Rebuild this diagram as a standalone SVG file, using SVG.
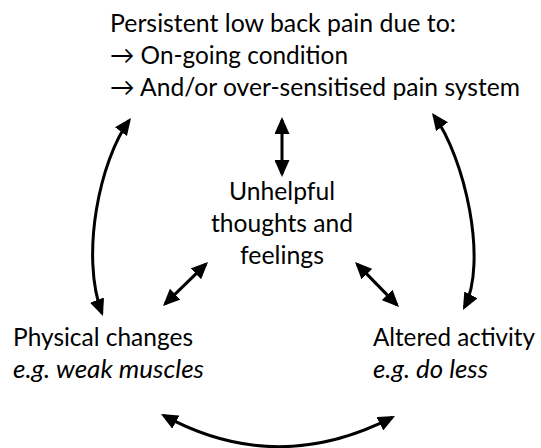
<svg xmlns="http://www.w3.org/2000/svg" width="541" height="448" viewBox="0 0 541 448">
  <style>
    text { font-family: Lato, "Open Sans", "Liberation Sans", sans-serif; font-size: 25px; fill: #000; }
    .it { font-style: italic; }
    .mid { text-anchor: middle; }
    .conn { fill: none; stroke: #000; stroke-width: 3; }
  </style>
  <defs>
    <marker id="ah" markerUnits="userSpaceOnUse" markerWidth="17" markerHeight="15" refX="14" refY="7.5" orient="auto-start-reverse">
      <path d="M0,0 L17,7.5 L0,15 Z" fill="#000"/>
    </marker>
  </defs>
  <rect width="541" height="448" fill="#fff"/>

  <g id="pain">
    <text x="110" y="32" textLength="346" lengthAdjust="spacingAndGlyphs">Persistent low back pain due to:</text>
    <text x="110" y="64" textLength="238" lengthAdjust="spacingAndGlyphs">→ On-going condition</text>
    <text x="110" y="96" textLength="410" lengthAdjust="spacingAndGlyphs">→ And/or over-sensitised pain system</text>
  </g>

  <g id="thoughts">
    <text class="mid" x="282" y="200" textLength="106" lengthAdjust="spacingAndGlyphs">Unhelpful</text>
    <text class="mid" x="282" y="232" textLength="142" lengthAdjust="spacingAndGlyphs">thoughts and</text>
    <text class="mid" x="282" y="264" textLength="84" lengthAdjust="spacingAndGlyphs">feelings</text>
  </g>

  <g id="physical">
    <text x="13" y="346" textLength="180" lengthAdjust="spacingAndGlyphs">Physical changes</text>
    <text class="it" x="13" y="378" textLength="191" lengthAdjust="spacingAndGlyphs">e.g. weak muscles</text>
  </g>

  <g id="activity">
    <text x="373" y="346" textLength="162" lengthAdjust="spacingAndGlyphs">Altered activity</text>
    <text class="it" x="373" y="378" textLength="115" lengthAdjust="spacingAndGlyphs">e.g. do less</text>
  </g>

  <g id="connectors">
    <path class="conn" marker-start="url(#ah)" marker-end="url(#ah)" d="M282,120 V174"/>
    <path class="conn" marker-start="url(#ah)" marker-end="url(#ah)" d="M165.1,303.9 L205.9,264.1"/>
    <path class="conn" marker-start="url(#ah)" marker-end="url(#ah)" d="M357.1,264.1 L396.9,304.9"/>
    <path class="conn" marker-start="url(#ah)" marker-end="url(#ah)" d="M129.2,120.4 C100,160 80,255 101.9,313.2"/>
    <path class="conn" marker-start="url(#ah)" marker-end="url(#ah)" d="M433.8,115.4 C465,158 488,262 464.4,307.3"/>
    <path class="conn" marker-start="url(#ah)" marker-end="url(#ah)" d="M163.6,415.4 Q276,477 392.3,417.4"/>
  </g>
</svg>
